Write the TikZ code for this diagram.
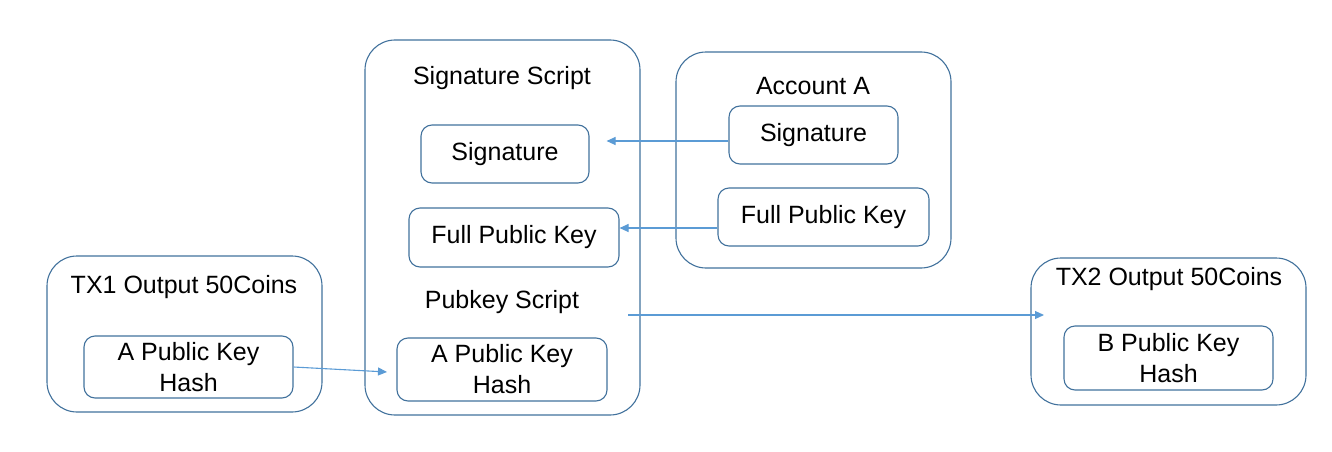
\documentclass[tikz,border=0pt]{standalone}
\usepackage{fontspec}
\setmainfont{Liberation Sans}
\usetikzlibrary{arrows.meta}
\definecolor{boxc}{RGB}{65,113,156}
\definecolor{arrc}{RGB}{91,155,213}
\begin{document}
\begin{tikzpicture}[x=1pt,y=-1pt,
  outer/.style={draw=boxc,line width=1.1pt,rounded corners=30pt,inner sep=0pt},
  inner/.style={draw=boxc,line width=1.1pt,rounded corners=11pt,inner sep=0pt,align=center,font=\fontsize{25}{31}\selectfont},
  lbl/.style={inner sep=0pt,font=\fontsize{25}{31}\selectfont},
  conn/.style={draw=arrc,line width=1.1pt,-{Triangle[length=9pt,width=8pt]}}]
\useasboundingbox (0,0) rectangle (1332,452);
% outer boxes
\node[outer,minimum width=275pt,minimum height=156pt] (tx1) at (184.5,334) {};
\node[outer,minimum width=275pt,minimum height=375pt] (mid) at (502.5,227.5) {};
\node[outer,minimum width=275pt,minimum height=216pt] (acc) at (813.5,160) {};
\node[outer,minimum width=275pt,minimum height=147pt] (tx2) at (1168.5,331.5) {};
% labels
\node[lbl] (ltx1) at (184,287) {TX1 Output 50Coins};
\node[lbl] (lsig) at (502,78) {Signature Script};
\node[lbl] (lpub) at (502,302) {Pubkey Script};
\node[lbl] (lacc) at (813,86) {Account A};
\node[lbl] (ltx2) at (1169,279) {TX2 Output 50Coins};
% inner boxes
\node[inner,minimum width=209pt,minimum height=62pt] (tx1h) at (188.5,367) {A Public Key\\Hash};
\node[inner,minimum width=168pt,minimum height=58pt] (msig) at (505,154) {Signature};
\node[inner,minimum width=210pt,minimum height=59pt] (mfpk) at (514,237.5) {Full Public Key};
\node[inner,minimum width=210pt,minimum height=63pt] (mh) at (502,369.5) {A Public Key\\Hash};
\node[inner,minimum width=169pt,minimum height=58pt] (asig) at (813.5,135) {Signature};
\node[inner,minimum width=211pt,minimum height=58pt] (afpk) at (823.5,217) {Full Public Key};
\node[inner,minimum width=209pt,minimum height=64pt] (tx2h) at (1168.5,358) {B Public Key\\Hash};
% connectors
\coordinate (p1) at (387,372);
\coordinate (p2s) at (628,315);
\coordinate (p2e) at (1044,315);
\draw[conn,shorten >=17pt] (asig.west |- 0,141) -- (msig.east |- 0,141);
\draw[conn] (afpk.west |- 0,228) -- (mfpk.east |- 0,228);
\draw[conn] (tx1h.east) -- (p1);
\draw[conn] (p2s) -- (p2e);
\end{tikzpicture}
\end{document}
